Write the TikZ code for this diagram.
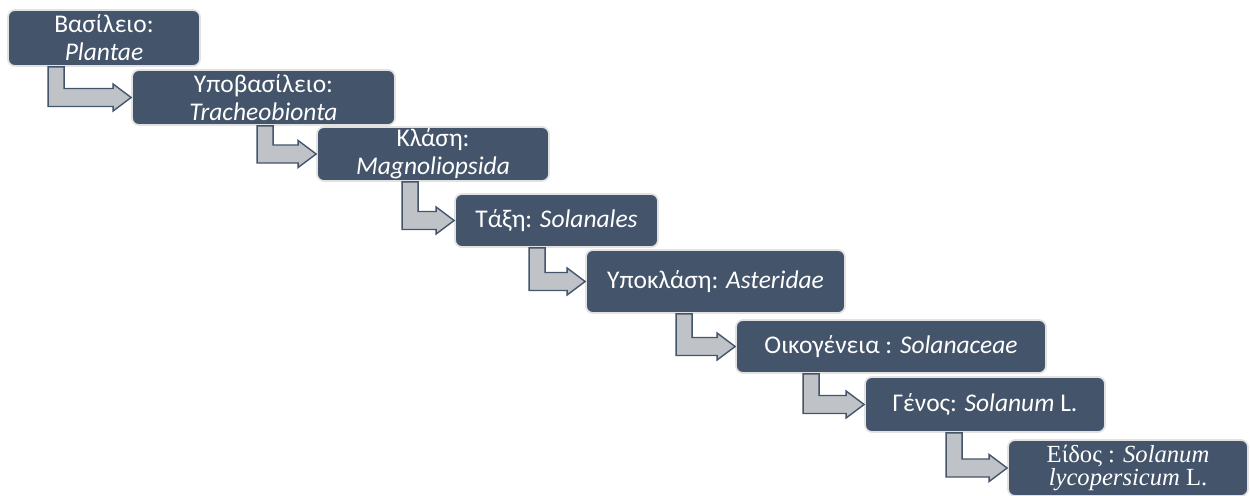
\documentclass[tikz,border=0pt]{standalone}
\usepackage{fontspec}
\setmainfont{Carlito}
\newfontfamily\timesfont{Liberation Serif}
\usepackage{xcolor}
\definecolor{boxslate}{RGB}{68,84,106}
\definecolor{arrowgrey}{RGB}{191,195,200}
\definecolor{boxedge}{RGB}{226,226,226}
\usepackage{tikz}
\usetikzlibrary{calc}

\tikzset{
  rankbox/.style={draw=boxedge, line width=1pt, fill=boxslate, rounded corners=4pt,
    text=white, align=center, inner sep=0pt, font=\fontsize{14.5}{15.8}\selectfont},
  bentarrow/.style={draw=boxslate, line width=0.8pt, fill=arrowgrey, line join=miter}
}

% bent block arrow: parent node, child node, stem distance left of the child
\newcommand{\steparrow}[3]{%
  \path[bentarrow] let \p1=(#1.south), \p2=(#2.west) in
    ({\x2-#3cm},\y1) -- ({\x2-#3cm+0.32cm},\y1)
    -- ({\x2-#3cm+0.32cm},{\y2+0.18cm}) -- ({\x2-0.36cm},{\y2+0.18cm})
    -- ({\x2-0.36cm},{\y2+0.27cm}) -- (\x2,\y2)
    -- ({\x2-0.36cm},{\y2-0.27cm}) -- ({\x2-0.36cm},{\y2-0.18cm})
    -- ({\x2-#3cm},{\y2-0.18cm}) -- cycle;}

\begin{document}
\begin{tikzpicture}
  \useasboundingbox (0,0) rectangle (25,-9.9);

  % taxonomy ranks
  \node[rankbox, minimum width=3.84cm, minimum height=1.12cm] (kingdom) at (2.08,-0.76) {Βασίλειο:\\\textit{Plantae}};
  \node[rankbox, minimum width=5.26cm, minimum height=1.10cm] (subkingdom) at (5.27,-1.95) {Υποβασίλειο:\\\textit{Tracheobionta}};
  \node[rankbox, minimum width=4.64cm, minimum height=1.08cm] (class) at (8.66,-3.08) {Κλάση:\\\textit{Magnoliopsida}};
  \node[rankbox, minimum width=4.06cm, minimum height=1.06cm] (order) at (11.13,-4.41) {Τάξη: \textit{Solanales}};
  \node[rankbox, minimum width=5.18cm, minimum height=1.26cm] (subclass) at (14.31,-5.63) {Υποκλάση: \textit{Asteridae}};
  \node[rankbox, minimum width=6.20cm, minimum height=1.06cm] (family) at (17.82,-6.93) {Οικογένεια : \textit{Solanaceae}};
  \node[rankbox, minimum width=4.80cm, minimum height=1.10cm] (genus) at (19.70,-8.09) {Γένος: \textit{Solanum} L.};
  \node[rankbox, minimum width=4.80cm, minimum height=1.12cm, font=\timesfont\fontsize{14}{13.5}\selectfont] (species) at (22.56,-9.36) {Είδος : \textit{Solanum}\\\textit{lycopersicum} L.};

  % arrows between ranks
  \steparrow{kingdom}{subkingdom}{1.66}
  \steparrow{subkingdom}{class}{1.18}
  \steparrow{class}{order}{1.04}
  \steparrow{order}{subclass}{1.12}
  \steparrow{subclass}{family}{1.18}
  \steparrow{family}{genus}{1.22}
  \steparrow{genus}{species}{1.22}
\end{tikzpicture}
\end{document}
